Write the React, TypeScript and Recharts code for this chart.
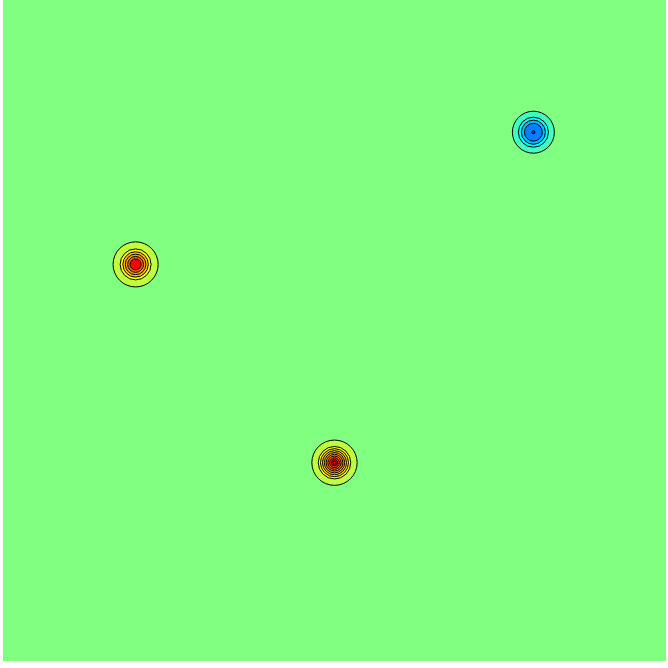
import { ScatterChart, Scatter, XAxis, YAxis, ZAxis, ReferenceArea } from 'recharts'

// filled contour levels (jet colour map), index 0 = background band
const LEVEL_COLORS = [
  '#80ff80', // 0  background
  '#c0ff40', // 1
  '#ffff00', // 2
  '#ffe000', // 3
  '#ffc000', // 4
  '#ffa000', // 5
  '#ff8000', // 6
  '#ff6000', // 7
  '#ff3000', // 8
  '#ff0000', // 9
  '#d00000', // 10
  '#40ffc0', // 11 low side
  '#00ffff', // 12
  '#00c0ff', // 13
  '#0080ff', // 14
  '#0040ff', // 15
]

const CENTER_X = [-1.8, 0, 1.8]
const CENTER_Y = [0.6, -1.2, 1.8]

// contour ring radii (data units), outer to inner
const RING_RADII = [
  [0.204, 0.14, 0.115, 0.093, 0.072, 0.05],
  [0.205, 0.147, 0.127, 0.109, 0.092, 0.076, 0.06, 0.044, 0.028, 0.014],
  [0.19, 0.136, 0.109, 0.081, 0.014],
]
const RING_LEVELS = [
  [1, 2, 4, 5, 7, 9],
  [1, 2, 3, 4, 5, 6, 7, 8, 9, 9],
  [11, 12, 13, 14, 15],
]

const DOMAIN: [number, number] = [-3, 3]
const W = 668
const H = 668
const MARGIN = { top: 0, right: 2, bottom: 7, left: 3 }
const PX_PER_UNIT = (W - MARGIN.left - MARGIN.right) / (DOMAIN[1] - DOMAIN[0])

const rings = CENTER_X.flatMap((x, i) =>
  RING_RADII[i].map((r, j) => ({ x, y: CENTER_Y[i], r, level: RING_LEVELS[i][j] }))
)

function Ring(props: any) {
  const { cx, cy, payload } = props
  return (
    <circle
      cx={cx}
      cy={cy}
      r={payload.r * PX_PER_UNIT}
      fill={LEVEL_COLORS[payload.level]}
      stroke="#000"
      strokeWidth={1}
    />
  )
}

export default function App() {
  return (
    <div style={{ position: 'absolute', left: 0, top: 0 }}>
      <ScatterChart width={W} height={H} margin={MARGIN}>
        <XAxis type="number" dataKey="x" domain={DOMAIN} hide allowDataOverflow />
        <YAxis type="number" dataKey="y" domain={DOMAIN} hide allowDataOverflow />
        <ZAxis range={[1, 1]} />
        <ReferenceArea
          x1={DOMAIN[0]}
          x2={DOMAIN[1]}
          y1={DOMAIN[0]}
          y2={DOMAIN[1]}
          fill={LEVEL_COLORS[0]}
          fillOpacity={1}
          stroke="none"
        />
        <Scatter data={rings} shape={Ring} isAnimationActive={false} />
      </ScatterChart>
    </div>
  )
}
